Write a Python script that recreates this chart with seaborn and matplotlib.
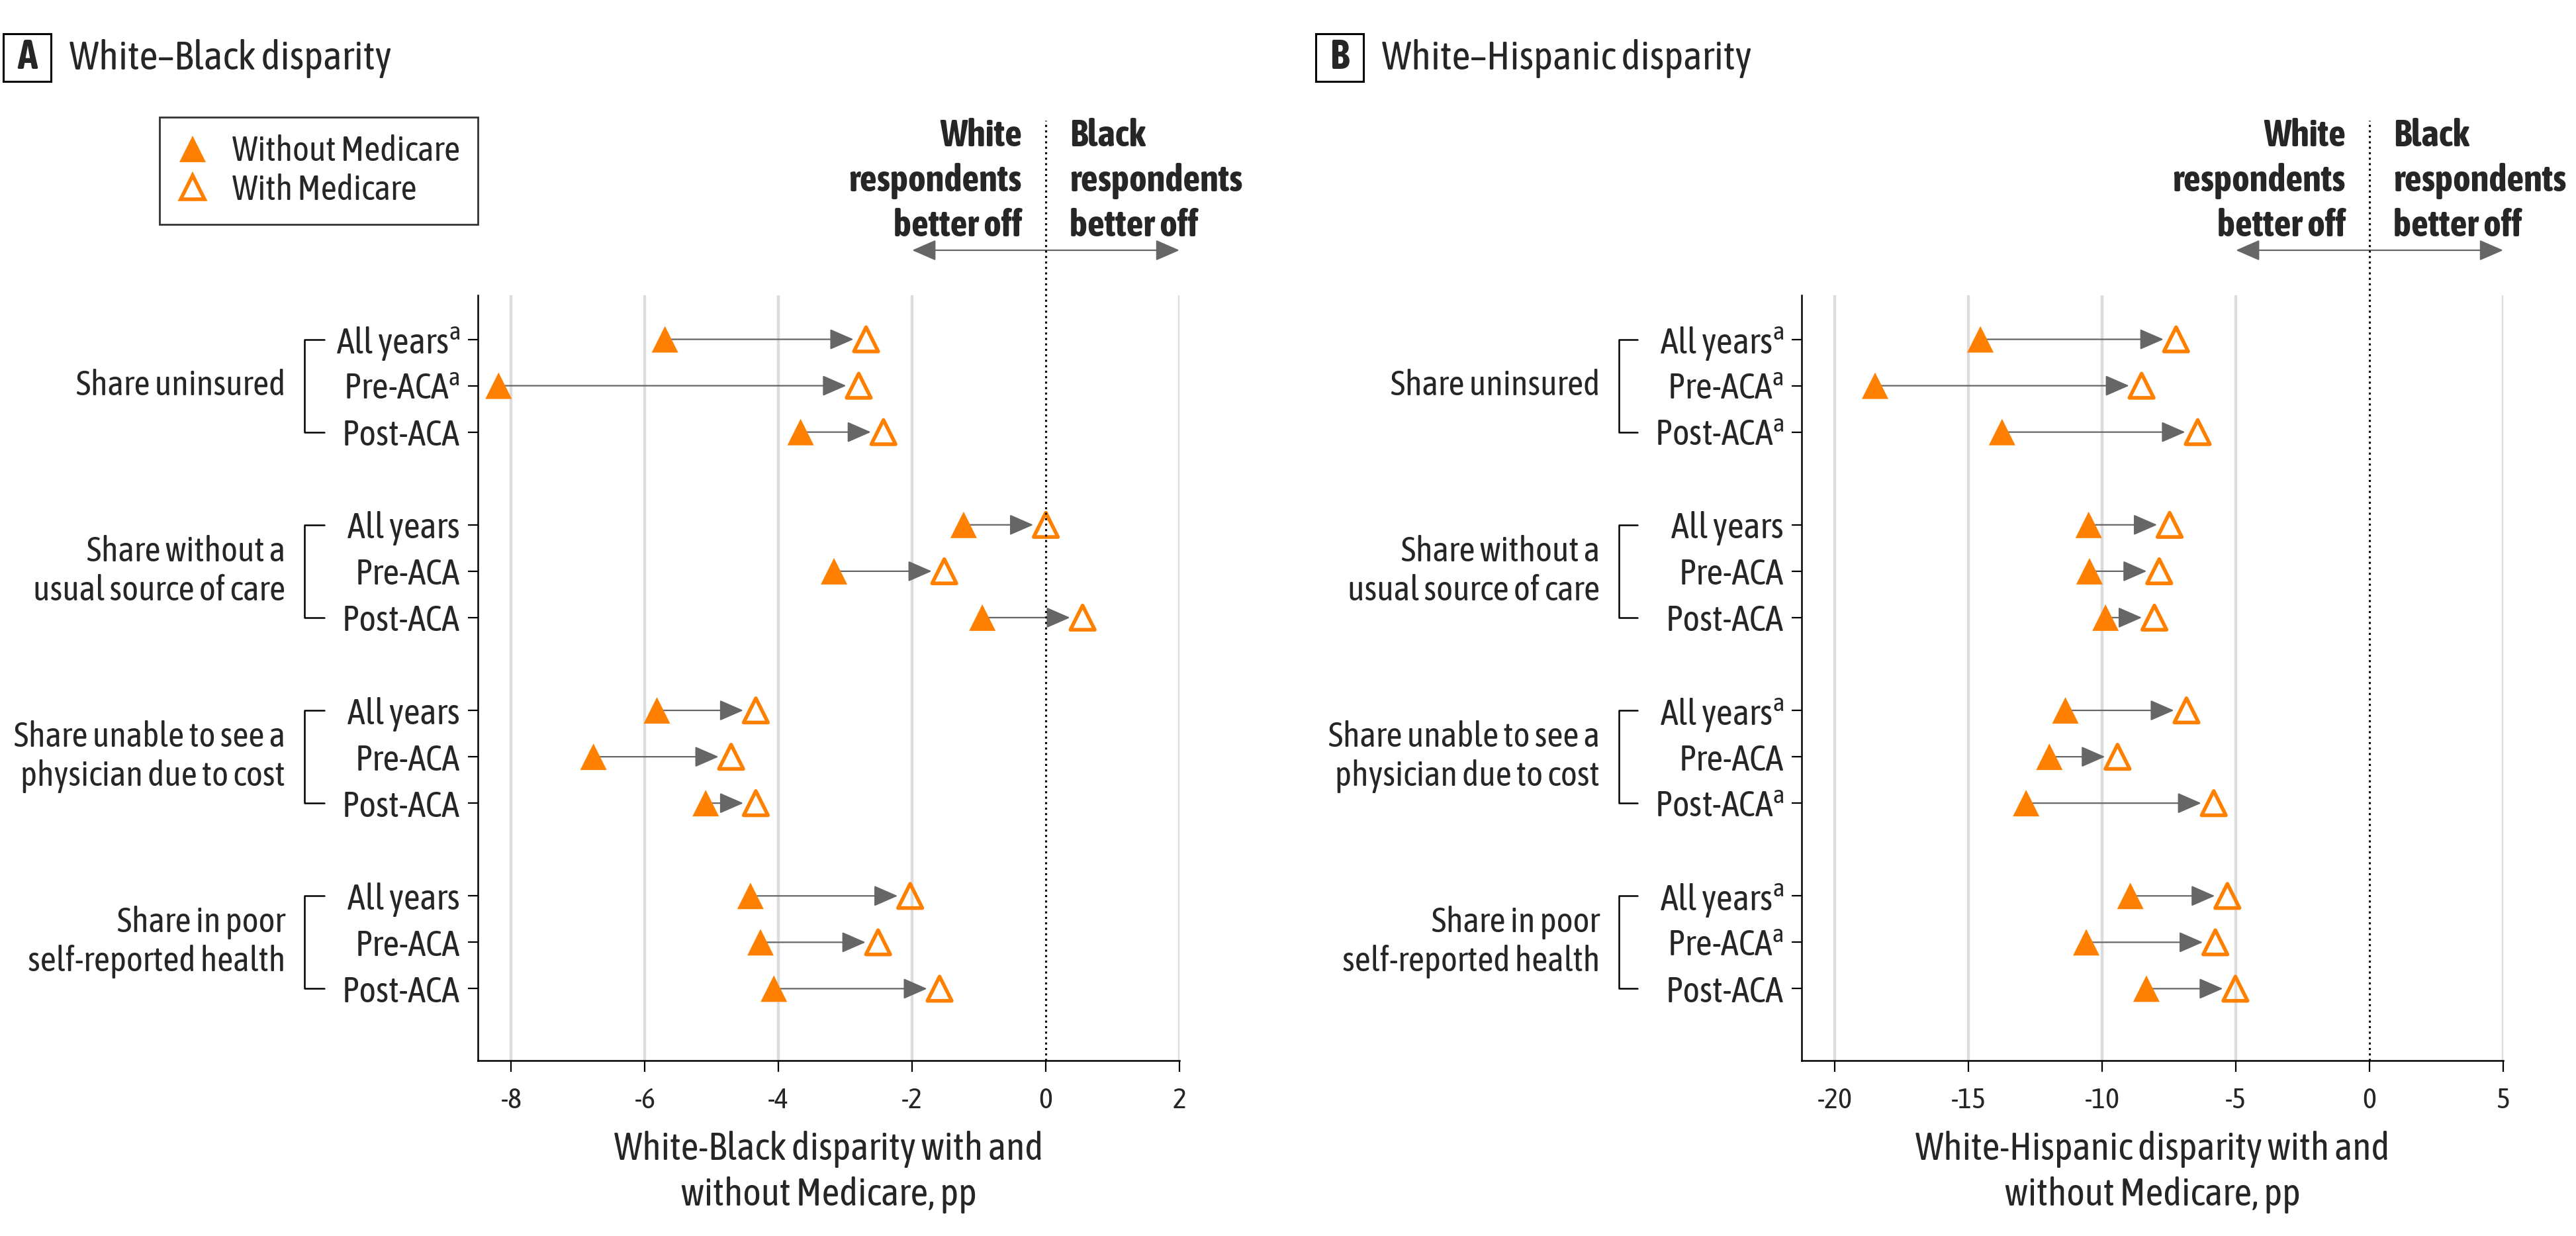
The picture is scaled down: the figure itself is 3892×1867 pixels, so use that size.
import numpy as np
import pandas as pd
import matplotlib
matplotlib.use("Agg")
import matplotlib.pyplot as plt
import matplotlib.patches as mpatches
from matplotlib.lines import Line2D
from matplotlib import font_manager
import seaborn as sns

# ── Data (pp) ────────────────────────────────────────────────────────────────
OUTCOMES = ["Share uninsured",
            "Share without a\nusual source of care",
            "Share unable to see a\nphysician due to cost",
            "Share in poor\nself-reported health"]
PERIODS = ["All years", "Pre-ACA", "Post-ACA"]

BLACK_WITHOUT = [-5.70, -8.19, -3.67, -1.23, -3.17, -0.95,
                 -5.82, -6.77, -5.09, -4.42, -4.27, -4.07]
BLACK_WITH    = [-2.69, -2.80, -2.43, 0.00, -1.52, 0.55,
                 -4.34, -4.71, -4.34, -2.03, -2.51, -1.59]
BLACK_SIG     = [1, 1, 0, 0, 0, 0, 0, 0, 0, 0, 0, 0]

HISP_WITHOUT  = [-14.56, -18.50, -13.75, -10.51, -10.48, -9.88,
                 -11.38, -11.98, -12.85, -8.95, -10.60, -8.35]
HISP_WITH     = [-7.24, -8.53, -6.43, -7.48, -7.87, -8.05,
                 -6.85, -9.43, -5.83, -5.32, -5.77, -5.02]
HISP_SIG      = [1, 1, 1, 0, 0, 0, 1, 0, 1, 1, 1, 0]

BLACK_TICKS = [-8, -6, -4, -2, 0, 2]
HISP_TICKS  = [-20, -15, -10, -5, 0, 5]

# ── Style ────────────────────────────────────────────────────────────────────
ORANGE = "#FF8000"
ARROW_GREY = "#666666"
GRID_GREY = "#DCDCDC"
W, H, DPI = 3892, 1867, 200

sns.set_theme(style="white")
_fonts = {(f.name, f.stretch) for f in font_manager.fontManager.ttflist}
_names = {n for n, _ in _fonts}
if "Asap Condensed" in _names:
    FONT, STRETCH, SCALE = "Asap Condensed", "condensed", 1.0
elif ("DejaVu Sans", "condensed") in _fonts:
    FONT, STRETCH, SCALE = "DejaVu Sans", "condensed", 0.83
else:
    FONT, STRETCH, SCALE = "DejaVu Sans", "normal", 0.75
plt.rcParams["font.family"] = [FONT, "DejaVu Sans"]
plt.rcParams["font.stretch"] = STRETCH
plt.rcParams["mathtext.fontset"] = "custom"
plt.rcParams["mathtext.rm"] = FONT
plt.rcParams["axes.unicode_minus"] = False

FS_YTICK = 19.5 * SCALE
FS_GROUP = 19 * SCALE
FS_TICK = 16 * SCALE
FS_XLAB = 21 * SCALE
FS_KEY = 20.5 * SCALE
FS_LEG = 19 * SCALE
FS_TITLE = 22 * SCALE

AX_BOTTOM, AX_TOP = 1602, 446          # pixel rows of the plot area
YLIM = (15.55, -0.95)
rows = [4 * g + i for g in range(len(OUTCOMES)) for i in range(len(PERIODS))]


def px_axes_y(py):
    return (AX_BOTTOM - py) / (AX_BOTTOM - AX_TOP)


def draw_panel(ax, without, with_, sig, ticks, xlim, group_x, bracket_x, stub_x,
               xlabel, right_group):
    df = pd.DataFrame({"row": rows, "without": without, "with": with_})
    ax.set_xlim(*xlim)
    ax.set_ylim(*YLIM)

    for t in ticks:
        if t != 0:
            ax.axvline(t, color=GRID_GREY, lw=1.6, zorder=0)
    ax.axvline(0, ymin=0, ymax=px_axes_y(182), color="black", lw=1.1,
               ls=(0, (1, 1.7)), clip_on=False, zorder=5)

    for r in df.itertuples():
        ax.annotate("", xy=(r._3, r.row), xytext=(r.without, r.row),
                    arrowprops=dict(arrowstyle="-|>,head_length=0.55,head_width=0.24",
                                    mutation_scale=20.5, color=ARROW_GREY, lw=0.8,
                                    shrinkA=0, shrinkB=6.8), zorder=2)

    sns.scatterplot(data=df, x="without", y="row", marker="^", s=14.4 ** 2,
                    color=ORANGE, edgecolor="none", linewidth=0, ax=ax,
                    zorder=4, legend=False)
    sns.scatterplot(data=df, x="with", y="row", marker="^", s=13.2 ** 2,
                    facecolor="none", edgecolor=ORANGE, linewidth=2.0, ax=ax,
                    zorder=4, legend=False)

    labels = [p + (r"$^{\mathrm{a}}$" if s else "")
              for p, s in zip(PERIODS * len(OUTCOMES), sig)]
    ax.set_yticks(rows)
    ax.set_yticklabels(labels, fontsize=FS_YTICK)
    ax.set_xticks(ticks)
    ax.set_xticklabels([str(t) for t in ticks], fontsize=FS_TICK)
    ax.tick_params(axis="y", length=5.4, width=0.8, pad=4.3, color="black",
                   left=True)
    ax.tick_params(axis="x", length=6, width=0.8, pad=8, color="black",
                   bottom=True)
    ax.set_xlabel(xlabel, fontsize=FS_XLAB, linespacing=1.30, labelpad=9)
    ax.set_ylabel("")

    sns.despine(ax=ax)
    for side in ("left", "bottom"):
        ax.spines[side].set_linewidth(0.9)
        ax.spines[side].set_color("black")

    # group brackets and outcome names
    ytr = ax.get_yaxis_transform()
    for g, name in enumerate(OUTCOMES):
        y0, y1, ym = 4 * g, 4 * g + 2, 4 * g + 1
        ax.plot([stub_x, bracket_x, bracket_x, stub_x], [y0, y0, y1, y1],
                color="black", lw=0.9, transform=ytr, clip_on=False)
        ax.text(group_x, ym, name, transform=ytr, ha="right", va="center",
                multialignment="right", fontsize=FS_GROUP, linespacing=1.2)

    # direction key above the plot
    xtr = ax.get_xaxis_transform()
    ya = px_axes_y(378)
    ax.annotate("", xy=(ticks[-1], ya), xytext=(-ticks[-1], ya), xycoords=xtr,
                arrowprops=dict(arrowstyle="<|-|>,head_length=0.55,head_width=0.24",
                                mutation_scale=20.5, color=ARROW_GREY, lw=0.8,
                                shrinkA=0, shrinkB=0), annotation_clip=False)
    yt = px_axes_y(178)
    ax.annotate("White\nrespondents\nbetter off", xy=(0, yt), xycoords=xtr,
                xytext=(-13, 0), textcoords="offset points", ha="right",
                va="top", multialignment="right", fontsize=FS_KEY,
                fontweight="bold", linespacing=1.3, annotation_clip=False)
    ax.annotate(f"{right_group}\nrespondents\nbetter off", xy=(0, yt),
                xycoords=xtr, xytext=(13, 0), textcoords="offset points",
                ha="left", va="top", multialignment="left", fontsize=FS_KEY,
                fontweight="bold", linespacing=1.3, annotation_clip=False)


def panel_header(fig, box_x, letter, title):
    rect = mpatches.Rectangle((box_x / W, 1 - 123 / H), 72 / W, 72 / H,
                              transform=fig.transFigure, fill=False,
                              ec="black", lw=1.1)
    fig.add_artist(rect)
    fig.text((box_x + 36) / W, 1 - 87 / H, letter, ha="center", va="center",
             fontsize=FS_TITLE, fontweight="bold")
    fig.text((box_x + 100) / W, 1 - 105 / H, title, ha="left", va="baseline",
             fontsize=FS_TITLE)


fig = plt.figure(figsize=(W / DPI, H / DPI), dpi=DPI)
fig.patch.set_facecolor("white")
ax_h = (AX_BOTTOM - AX_TOP) / H
ax_a = fig.add_axes([722 / W, 1 - AX_BOTTOM / H, 1060 / W, ax_h])
ax_b = fig.add_axes([2722 / W, 1 - AX_BOTTOM / H, 1060 / W, ax_h])

draw_panel(ax_a, BLACK_WITHOUT, BLACK_WITH, BLACK_SIG, BLACK_TICKS, (-8.5, 2),
           group_x=-0.2745, bracket_x=-0.2472, stub_x=-0.2189,
           xlabel="White-Black disparity with and\nwithout Medicare, pp",
           right_group="Black")
draw_panel(ax_b, HISP_WITHOUT, HISP_WITH, HISP_SIG, HISP_TICKS, (-21.25, 5),
           group_x=-0.2877, bracket_x=-0.2604, stub_x=-0.234,
           xlabel="White-Hispanic disparity with and\nwithout Medicare, pp",
           right_group="Black")

panel_header(fig, 5, "A", "White\u2013Black disparity")
panel_header(fig, 1988, "B", "White\u2013Hispanic disparity")

handles = [Line2D([], [], ls="none", marker="^", ms=14.4, color=ORANGE,
                  mew=0, label="Without Medicare"),
           Line2D([], [], ls="none", marker="^", ms=13.2, mfc="none",
                  mec=ORANGE, mew=2.0, label="With Medicare")]
leg = ax_a.legend(handles=handles, loc="upper right",
                  bbox_to_anchor=(0.0, px_axes_y(177)), borderaxespad=0,
                  frameon=True, fancybox=False, edgecolor="black",
                  fontsize=FS_LEG, handlelength=0.9, handletextpad=0.7,
                  borderpad=0.5, labelspacing=0.14)
leg.get_frame().set_linewidth(1.0)

fig.savefig("out.png", dpi=DPI, facecolor="white")
